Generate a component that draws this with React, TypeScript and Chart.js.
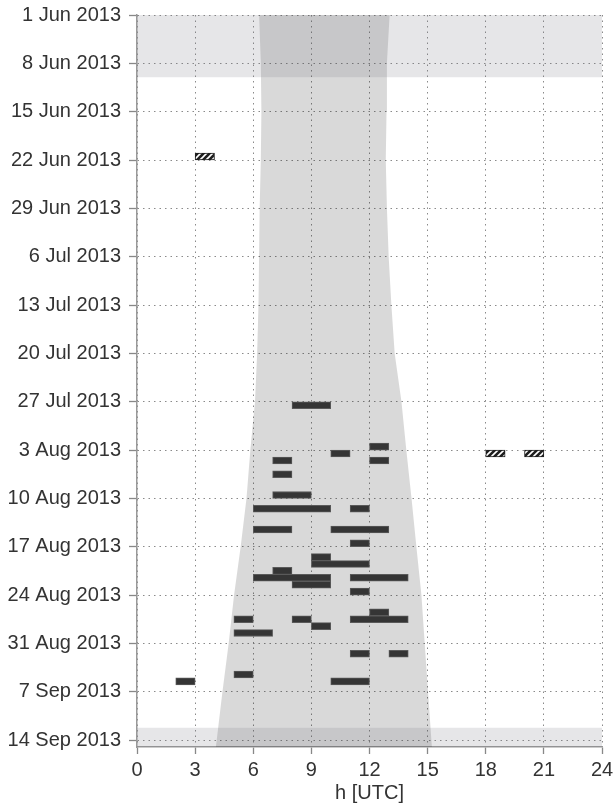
import React, { useEffect, useRef } from 'react';
import { Chart, registerables } from 'chart.js';

Chart.register(...registerables);

const START_DATE = '2013-06-01';

const yTickLabels = [
  '1 Jun 2013', '8 Jun 2013', '15 Jun 2013', '22 Jun 2013', '29 Jun 2013',
  '6 Jul 2013', '13 Jul 2013', '20 Jul 2013', '27 Jul 2013', '3 Aug 2013',
  '10 Aug 2013', '17 Aug 2013', '24 Aug 2013', '31 Aug 2013', '7 Sep 2013',
  '14 Sep 2013',
];

// daylight window (hours UTC) sampled by day offset from 1 Jun
const daylightDays = [0, 7, 14, 21, 28, 35, 42, 49, 56, 63, 70, 77, 84, 91, 98, 106];
const daylightStart = [6.3, 6.39, 6.42, 6.39, 6.33, 6.3, 6.27, 6.2, 6.09, 5.85, 5.65, 5.35, 5.01, 4.73, 4.41, 4.07];
const daylightEnd = [13.04, 12.9, 12.88, 12.84, 12.9, 12.99, 13.13, 13.3, 13.65, 13.9, 14.17, 14.42, 14.68, 14.85, 15.02, 15.22];

// shaded periods (day offsets)
const topBand = [0, 9];
const bottomBand = [103.2, 106];

// observed events
const eventDates = [
  '2013-07-27', '2013-08-02', '2013-08-03', '2013-08-04', '2013-08-04',
  '2013-08-06', '2013-08-09', '2013-08-11', '2013-08-11', '2013-08-14',
  '2013-08-14', '2013-08-16', '2013-08-18', '2013-08-19', '2013-08-20',
  '2013-08-21', '2013-08-21', '2013-08-22', '2013-08-23', '2013-08-26',
  '2013-08-27', '2013-08-27', '2013-08-27', '2013-08-28', '2013-08-29',
  '2013-09-01', '2013-09-01', '2013-09-04', '2013-09-05', '2013-09-05',
];
const eventStart = [8, 12, 10, 7, 12, 7, 7, 6, 11, 6, 10, 11, 9, 9, 7, 6, 11, 8, 11, 12, 5, 8, 11, 9, 5, 11, 13, 5, 2, 10];
const eventEnd = [10, 13, 11, 8, 13, 8, 9, 10, 12, 8, 13, 12, 10, 12, 8, 10, 14, 10, 12, 13, 6, 9, 14, 10, 7, 12, 14, 6, 3, 12];

// hatched events
const hatchDates = ['2013-06-21', '2013-08-03', '2013-08-03'];
const hatchStart = [3, 18, 20];
const hatchEnd = [4, 19, 21];

const dayIndex = (s: string) => {
  const [y, m, d] = s.split('-').map(Number);
  const [y0, m0, d0] = START_DATE.split('-').map(Number);
  return (Date.UTC(y, m - 1, d) - Date.UTC(y0, m0 - 1, d0)) / 86400000;
};

const FONT = '"Liberation Sans", Arial, Helvetica, sans-serif';

function makeHatch(): CanvasPattern | string {
  const c = document.createElement('canvas');
  c.width = 6;
  c.height = 6;
  const g = c.getContext('2d');
  if (!g) return '#222';
  g.fillStyle = '#1e1e1e';
  g.fillRect(0, 0, 6, 6);
  g.strokeStyle = '#ffffff';
  g.lineWidth = 1.6;
  g.beginPath();
  g.moveTo(-3, 3); g.lineTo(3, -3);
  g.moveTo(0, 6); g.lineTo(6, 0);
  g.moveTo(3, 9); g.lineTo(9, 3);
  g.stroke();
  return g.createPattern(c, 'repeat') || '#222';
}

const gridDash = (ctx: any) => (ctx && ctx.type === 'tick' ? [1.5, 4] : []);

export default function App() {
  const ref = useRef<HTMLCanvasElement | null>(null);

  useEffect(() => {
    if (!ref.current) return;
    const polygon = [
      ...daylightDays.map((d, i) => ({ x: daylightStart[i], y: d })),
      ...daylightDays.map((d, i) => ({ x: daylightEnd[i], y: d })).reverse(),
    ];
    polygon.push({ ...polygon[0] });
    const rect = (b: number[]) => [
      { x: 0, y: b[0] }, { x: 24, y: b[0] }, { x: 24, y: b[1] }, { x: 0, y: b[1] }, { x: 0, y: b[0] },
    ];
    const bandColor = 'rgba(120,121,128,0.185)';
    const lineBase = {
      type: 'line' as const,
      fill: 'shape' as const,
      borderWidth: 0,
      borderColor: 'rgba(0,0,0,0)',
      pointRadius: 0,
      tension: 0,
    };

    const chart = new Chart(ref.current, {
      type: 'bar',
      data: {
        datasets: [
          {
            type: 'bar',
            indexAxis: 'y',
            data: eventDates.map((d, i) => ({ y: dayIndex(d) + 0.5, x: [eventStart[i], eventEnd[i]] })) as any,
            backgroundColor: '#353535',
            borderColor: '#5a5a5a',
            borderWidth: 1,
            borderSkipped: false,
            barPercentage: 1,
            categoryPercentage: 1,
            grouped: false,
            order: 0,
          } as any,
          {
            type: 'bar',
            indexAxis: 'y',
            data: hatchDates.map((d, i) => ({ y: dayIndex(d) + 0.5, x: [hatchStart[i], hatchEnd[i]] })) as any,
            backgroundColor: makeHatch() as any,
            borderColor: '#1e1e1e',
            borderWidth: 1,
            borderSkipped: false,
            barPercentage: 1,
            categoryPercentage: 1,
            grouped: false,
            order: 0,
          } as any,
          { ...lineBase, data: rect(topBand), backgroundColor: bandColor, order: 1 } as any,
          { ...lineBase, data: rect(bottomBand), backgroundColor: bandColor, order: 1 } as any,
          { ...lineBase, data: polygon, backgroundColor: 'rgba(0,0,0,0.148)', order: 2 } as any,
        ],
      },
      options: {
        animation: false,
        responsive: true,
        maintainAspectRatio: false,
        layout: { padding: { top: 15, right: 11, bottom: 0, left: 0 } },
        plugins: { legend: { display: false }, tooltip: { enabled: false } },
        events: [],
        scales: {
          x: {
            type: 'linear',
            min: 0,
            max: 24,
            offset: false,
            afterFit: (s: any) => { s.height = 60; s.paddingLeft = 0; s.paddingRight = 0; },
            ticks: {
              stepSize: 3,
              autoSkip: false,
              padding: 4,
              color: '#333',
              font: { family: FONT, size: 20 },
            },
            grid: {
              offset: false,
              color: '#8a8a8a',
              lineWidth: 1,
              tickBorderDash: [],
              tickColor: '#888',
              tickLength: 7,
              tickWidth: 1.3,
            },
            border: { display: true, color: '#999', width: 1.5, dash: gridDash },
            title: {
              display: true,
              text: 'h [UTC]',
              color: '#333',
              font: { family: FONT, size: 20 },
              padding: { top: 0, bottom: 2 },
            },
          },
          y: {
            type: 'linear',
            reverse: true,
            min: 0,
            max: 106,
            offset: false,
            beginAtZero: false,
            afterFit: (s: any) => { s.width = 137; s.paddingTop = 0; s.paddingBottom = 0; },
            ticks: {
              stepSize: 7,
              maxTicksLimit: 30,
              includeBounds: false,
              autoSkip: false,
              padding: 8,
              color: '#333',
              font: { family: FONT, size: 20 },
              callback: (v: any) => yTickLabels[Math.round(Number(v) / 7)] ?? '',
            },
            grid: {
              offset: false,
              color: '#8a8a8a',
              lineWidth: 1,
              tickBorderDash: [],
              tickColor: '#888',
              tickLength: 8,
              tickWidth: 1.3,
            },
            border: { display: true, color: '#999', width: 1.5, dash: gridDash },
          },
        },
      } as any,
    });
    return () => chart.destroy();
  }, []);

  return (
    <div style={{ position: 'fixed', left: 0, top: 0, width: 613, height: 807, background: '#fff' }}>
      <canvas ref={ref} />
    </div>
  );
}
